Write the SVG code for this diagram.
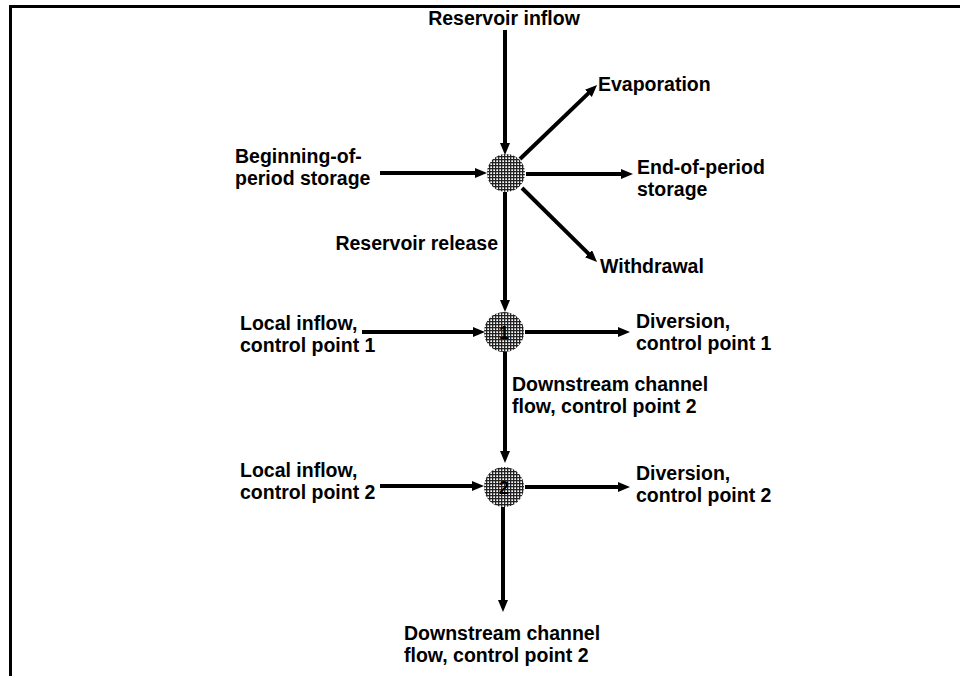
<svg xmlns="http://www.w3.org/2000/svg" width="960" height="676" viewBox="0 0 960 676">
<style>
text{font-family:"Liberation Sans",Arial,sans-serif;font-weight:bold;font-size:19.5px;fill:#000}
.ln{stroke:#000;stroke-width:4;fill:none;marker-end:url(#ah)}
.node{fill:url(#hatch)}
.num{font-size:18px;text-anchor:middle}
</style>
<defs>
<marker id="ah" markerUnits="userSpaceOnUse" markerWidth="14" markerHeight="12" refX="1" refY="5" orient="auto">
<path d="M0,0 L12,5 L0,10 z" fill="#000"/>
</marker>
<pattern id="hatch" width="3" height="3" patternUnits="userSpaceOnUse">
<rect width="3" height="3" fill="#fff"/>
<rect width="3" height="1.3" fill="#222"/>
<rect width="1.3" height="3" fill="#222"/>
</pattern>
</defs>
<rect width="960" height="676" fill="#fff"/>
<g id="frame">
<path d="M10.5,676 V6.5 H960" stroke="#000" stroke-width="3" fill="none"/>
</g>
<g id="connectors">
<line class="ln" x1="505" y1="30" x2="505" y2="144"/>
<line class="ln" x1="380" y1="173" x2="476" y2="173"/>
<line class="ln" x1="520" y1="159" x2="589.1" y2="92.6"/>
<line class="ln" x1="526" y1="174" x2="622" y2="174"/>
<line class="ln" x1="522" y1="188" x2="589.2" y2="254.3"/>
<line class="ln" x1="505" y1="192" x2="505" y2="301"/>
<line class="ln" x1="362" y1="332" x2="474" y2="332"/>
<line class="ln" x1="525" y1="332" x2="619" y2="332"/>
<line class="ln" x1="505" y1="352" x2="505" y2="452"/>
<line class="ln" x1="380" y1="486" x2="473" y2="486"/>
<line class="ln" x1="525" y1="487" x2="619" y2="487"/>
<line class="ln" x1="503" y1="507" x2="503" y2="601"/>
</g>
<g id="reservoir">
<circle class="node" cx="506" cy="173" r="19"/>
</g>
<g id="cp1">
<circle class="node" cx="504" cy="332" r="20"/>
<text class="num" x="504" y="339">1</text>
</g>
<g id="cp2">
<circle class="node" cx="504" cy="487" r="20"/>
<text class="num" x="504" y="494">2</text>
</g>
<g id="inflow"><text x="504" y="25" text-anchor="middle">Reservoir inflow</text></g>
<g id="evaporation"><text x="598" y="91">Evaporation</text></g>
<g id="endstorage"><text x="637" y="174">End-of-period</text><text x="637" y="196">storage</text></g>
<g id="withdrawal"><text x="600" y="273">Withdrawal</text></g>
<g id="beginstorage"><text x="235" y="163">Beginning-of-</text><text x="235" y="185">period storage</text></g>
<g id="release"><text x="498" y="250" text-anchor="end">Reservoir release</text></g>
<g id="local1"><text x="240" y="330">Local inflow,</text><text x="240" y="352">control point 1</text></g>
<g id="div1"><text x="636" y="328">Diversion,</text><text x="636" y="350">control point 1</text></g>
<g id="down1"><text x="512" y="391">Downstream channel</text><text x="512" y="413">flow, control point 2</text></g>
<g id="local2"><text x="240" y="477">Local inflow,</text><text x="240" y="499">control point 2</text></g>
<g id="div2"><text x="636" y="480">Diversion,</text><text x="636" y="502">control point 2</text></g>
<g id="down2"><text x="404" y="640">Downstream channel</text><text x="404" y="662">flow, control point 2</text></g>
</svg>
